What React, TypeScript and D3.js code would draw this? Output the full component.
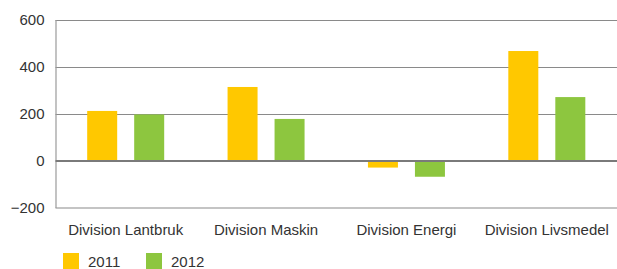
import React, { useEffect, useRef } from 'react';
import * as d3 from 'd3';

const categories = ['Division Lantbruk', 'Division Maskin', 'Division Energi', 'Division Livsmedel'];
const years = ['2011', '2012'];
const values2011 = [213, 315, -28, 468];
const values2012 = [198, 179, -67, 272];
const yTicks = [-200, 0, 200, 400, 600];
const colors = ['#ffc800', '#8dc63f'];

const App = () => {
    const svgRef = useRef<SVGSVGElement>(null);
    const width = 617;
    const height = 269;

    useEffect(() => {
        const svg = d3.select(svgRef.current);
        svg.selectAll('*').remove();

        const margin = { top: 20, right: 0, bottom: 61, left: 55.5 };
        const innerWidth = width - margin.left - margin.right;
        const innerHeight = height - margin.top - margin.bottom;

        const g = svg.append('g')
            .attr('transform', `translate(${margin.left},${margin.top})`);

        const x = d3.scaleBand()
            .domain(categories)
            .range([0, innerWidth]);

        // two bars 30px wide with a 17px gap, centred in each category
        const x1 = d3.scaleBand()
            .domain(years)
            .range([x.bandwidth() / 2 - 38.5, x.bandwidth() / 2 + 38.5])
            .paddingInner(17 / 47);

        const y = d3.scaleLinear()
            .domain([-200, 600])
            .range([innerHeight, 0]);

        // grid lines
        g.selectAll('.grid')
            .data(yTicks.filter(t => t !== 0 && t !== -200))
            .enter()
            .append('line')
            .attr('x1', 0)
            .attr('x2', innerWidth)
            .attr('y1', d => Math.round(y(d)) + 0.5)
            .attr('y2', d => Math.round(y(d)) + 0.5)
            .attr('stroke', '#8a8a8a')
            .attr('stroke-width', 1.2);

        g.append('line')
            .attr('x1', 0)
            .attr('x2', innerWidth)
            .attr('y1', y(-200))
            .attr('y2', y(-200))
            .attr('stroke', '#b0b0b0')
            .attr('stroke-width', 1.5);

        g.append('line')
            .attr('x1', 0.5)
            .attr('x2', 0.5)
            .attr('y1', y(600))
            .attr('y2', y(-200))
            .attr('stroke', '#9a9a9a')
            .attr('stroke-width', 1.2);

        const series = [values2011, values2012];
        series.forEach((vals, si) => {
            g.selectAll(`.bar-${si}`)
                .data(vals)
                .enter()
                .append('rect')
                .attr('x', (d, i) => (x(categories[i]) || 0) + (x1(years[si]) || 0))
                .attr('y', d => y(Math.max(0, d)))
                .attr('width', x1.bandwidth())
                .attr('height', d => Math.abs(y(d) - y(0)))
                .attr('fill', colors[si]);
        });

        // zero line
        g.append('line')
            .attr('x1', 0)
            .attr('x2', innerWidth)
            .attr('y1', y(0))
            .attr('y2', y(0))
            .attr('stroke', '#7a7a7a')
            .attr('stroke-width', 2);

        // y tick labels
        g.selectAll('.ytick')
            .data(yTicks)
            .enter()
            .append('text')
            .attr('x', -11)
            .attr('y', d => y(d))
            .attr('dy', '0.35em')
            .attr('text-anchor', 'end')
            .style('font-family', 'Liberation Sans, Arial, sans-serif')
            .style('font-size', '15px')
            .style('fill', '#333')
            .text(d => (d < 0 ? '\u2212' + Math.abs(d) : String(d)));

        // category labels
        g.selectAll('.xlabel')
            .data(categories)
            .enter()
            .append('text')
            .attr('x', d => (x(d) || 0) + x.bandwidth() / 2)
            .attr('y', innerHeight + 27)
            .attr('text-anchor', 'middle')
            .style('font-family', 'Liberation Sans, Arial, sans-serif')
            .style('font-size', '15px')
            .style('fill', '#333')
            .text(d => d);

        // legend
        const legend = svg.append('g');
        years.forEach((yr, i) => {
            const lx = 63 + i * 83;
            legend.append('rect')
                .attr('x', lx)
                .attr('y', 253)
                .attr('width', 16)
                .attr('height', 16)
                .attr('fill', colors[i]);
            legend.append('text')
                .attr('x', lx + 25)
                .attr('y', 267)
                .style('font-family', 'Liberation Sans, Arial, sans-serif')
                .style('font-size', '15px')
                .style('fill', '#333')
                .text(yr);
        });
    }, []);

    return (
        <svg ref={svgRef} width={width} height={height}
            style={{ position: 'absolute', left: 0, top: 0 }}></svg>
    );
};

export default App;
